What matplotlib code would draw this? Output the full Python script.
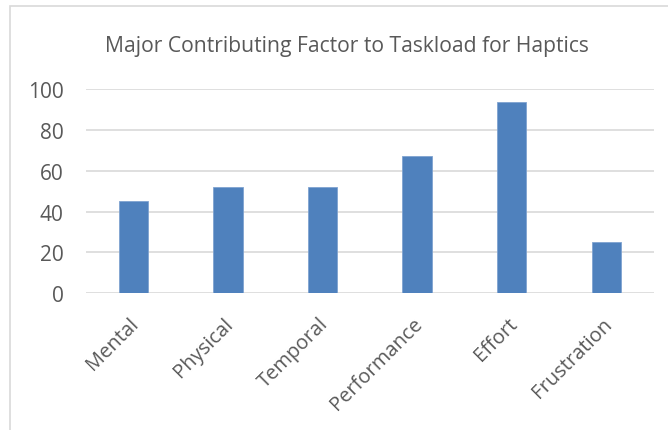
import matplotlib
matplotlib.use("Agg")
import matplotlib.pyplot as plt
import matplotlib.transforms as mtransforms
from matplotlib.patches import Rectangle

categories = ["Mental", "Physical", "Temporal", "Performance", "Effort", "Frustration"]
values = [45, 52, 52, 67, 93.5, 25]
yticks = [0, 20, 40, 60, 80, 100]
title = "Major Contributing Factor to Taskload for Haptics"

plt.rcParams["font.family"] = ["Open Sans", "DejaVu Sans"]
text_color = "#595959"
grid_color = "#D9D9D9"
bar_color = "#4F81BD"

W, H = 668, 431
fig = plt.figure(figsize=(W / 100, H / 100), dpi=100)

# chart area border
fig.patches.append(Rectangle((10 / W, -0.05), 1.2, 1 - 7 / H + 0.05,
                             transform=fig.transFigure, fill=False,
                             edgecolor=grid_color, linewidth=1.2))

ax = fig.add_axes([86 / W, 1 - 294.3 / H, (653.7 - 86) / W, (294.3 - 90) / H])
x = list(range(len(categories)))
ax.bar(x, values, width=0.31, color=bar_color, edgecolor="#7FA3D0",
       linewidth=0.6, zorder=3)
ax.set_xlim(-0.5, len(categories) - 0.5)
ax.set_ylim(0, 100)
ax.set_yticks(yticks)
ax.set_yticklabels([str(t) for t in yticks], fontsize=15, color=text_color)
ax.yaxis.grid(True, color=grid_color, linewidth=1.2, zorder=0)
ax.tick_params(axis="y", length=0, pad=16)
ax.set_xticks(x)
ax.set_xticklabels([])
ax.tick_params(axis="x", length=0)
for s in ax.spines.values():
    s.set_visible(False)

# rotated category labels, right end just below each bar
shift = mtransforms.ScaledTranslation(6 / 100, -31 / 100, fig.dpi_scale_trans)
base = mtransforms.blended_transform_factory(ax.transData, ax.transAxes)
for xi, name in zip(x, categories):
    ax.text(xi, 0, name, transform=base + shift, rotation=45,
            rotation_mode="anchor", ha="right", va="baseline",
            fontsize=14.5, color=text_color)

fig.text(346.5 / W, 1 - 52 / H, title, ha="center", va="baseline",
         fontsize=15.2, color=text_color)

fig.savefig("out.png", dpi=100)
